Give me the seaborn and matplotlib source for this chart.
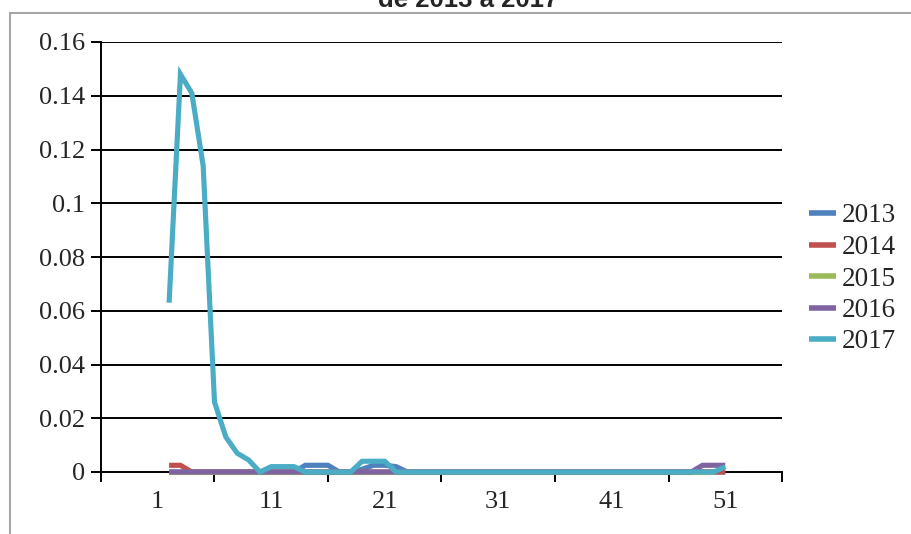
import numpy as np
import pandas as pd
import matplotlib
matplotlib.use("Agg")
import matplotlib.pyplot as plt
import seaborn as sns
from matplotlib.patches import Rectangle

# ---- data ----
weeks = list(range(2, 52))
n = len(weeks)

s2013 = [0.0] * n
for w, v in {14: 0.0025, 15: 0.0025, 16: 0.0025, 19: 0.001, 20: 0.0025, 21: 0.0025, 22: 0.002}.items():
    s2013[w - 2] = v

s2014 = [0.0] * n
for w, v in {2: 0.0025, 3: 0.0025}.items():
    s2014[w - 2] = v

s2015 = [0.0] * (n - 1) + [np.nan]

s2016 = [0.0] * n
for w, v in {49: 0.0025, 50: 0.0025, 51: 0.0025}.items():
    s2016[w - 2] = v

s2017 = [0.0] * n
for w, v in {2: 0.063, 3: 0.148, 4: 0.141, 5: 0.114, 6: 0.026, 7: 0.013, 8: 0.007,
             9: 0.0045, 10: 0.0, 11: 0.002, 12: 0.002, 13: 0.002,
             19: 0.004, 20: 0.004, 21: 0.004, 51: 0.002}.items():
    s2017[w - 2] = v

years = ["2013", "2014", "2015", "2016", "2017"]
series = [s2013, s2014, s2015, s2016, s2017]
colors = ["#4F81BD", "#C0504D", "#9BBB59", "#8064A2", "#4BACC6"]

xtick_labels = ["1", "11", "21", "31", "41", "51"]
ytick_vals = [0, 0.02, 0.04, 0.06, 0.08, 0.1, 0.12, 0.14, 0.16]
ytick_labels = ["0", "0.02", "0.04", "0.06", "0.08", "0.1", "0.12", "0.14", "0.16"]
title = "de 2013 a 2017"

df = pd.DataFrame({
    "week": weeks * len(years),
    "value": sum(series, []),
    "year": sum([[y] * n for y in years], []),
})

# ---- style ----
sns.set_style("white")
plt.rcParams["font.family"] = ["Liberation Serif", "DejaVu Serif"]

fig = plt.figure(figsize=(9.12, 5.34), dpi=100)
ax = fig.add_axes([101 / 912, 62 / 534, 681 / 912, 430 / 534])

sns.lineplot(data=df, x="week", y="value", hue="year", hue_order=years,
             palette=colors, estimator=None, sort=False, linewidth=3.7,
             ax=ax, legend=True)
for line in ax.lines:
    line.set_clip_on(False)
    line.set_zorder(4)
    line.set_solid_capstyle("butt")
    line.set_solid_joinstyle("miter")

ax.set_xlim(-4, 56)
ax.set_ylim(0, 0.16)

# gridlines
for v in ytick_vals[1:]:
    ax.axhline(v, color="black", lw=1.4, zorder=1)

ax.set_xticks(list(range(-4, 57, 10)))
ax.set_xticklabels([""] * 7)
ax.set_xticks(list(range(1, 52, 10)), minor=True)
ax.set_xticklabels(xtick_labels, minor=True, fontsize=19)
ax.tick_params(axis="x", which="major", direction="out", length=7.2, width=1.4,
               color="black", bottom=True)
ax.tick_params(axis="x", which="minor", length=0, pad=14)

ax.set_yticks(ytick_vals)
ax.set_yticklabels(ytick_labels, fontsize=19)
ax.tick_params(axis="y", direction="out", length=7.2, width=1.4, color="black",
               left=True, pad=4)

for side in ["top", "right"]:
    ax.spines[side].set_visible(False)
for side in ["left", "bottom"]:
    ax.spines[side].set_color("black")
    ax.spines[side].set_linewidth(1.4)
    ax.spines[side].set_zorder(2)

ax.set_xlabel("")
ax.set_ylabel("")

handles, labels = ax.get_legend_handles_labels()
ax.legend(handles, labels, loc="center left",
          bbox_to_anchor=(809 / 912, 1 - 279 / 534), bbox_transform=fig.transFigure,
          frameon=False, fontsize=19.5, handlelength=1.0, handletextpad=0.22,
          labelspacing=0.24, borderpad=0, borderaxespad=0)
for h in ax.get_legend().get_lines():
    h.set_linewidth(4)

# outer chart border (partially visible)
fig.patches.append(Rectangle((10 / 912, -0.2), 1.2, 1.2 - 13 / 534,
                             transform=fig.transFigure, fill=False,
                             edgecolor="#A6A6A6", lw=1.5))

fig.text(468 / 912, 1 - 7 / 534, title, ha="center", va="baseline",
         fontsize=18.5, fontweight="bold", family=["Liberation Sans", "DejaVu Sans"])

fig.savefig("out.png", dpi=100)
